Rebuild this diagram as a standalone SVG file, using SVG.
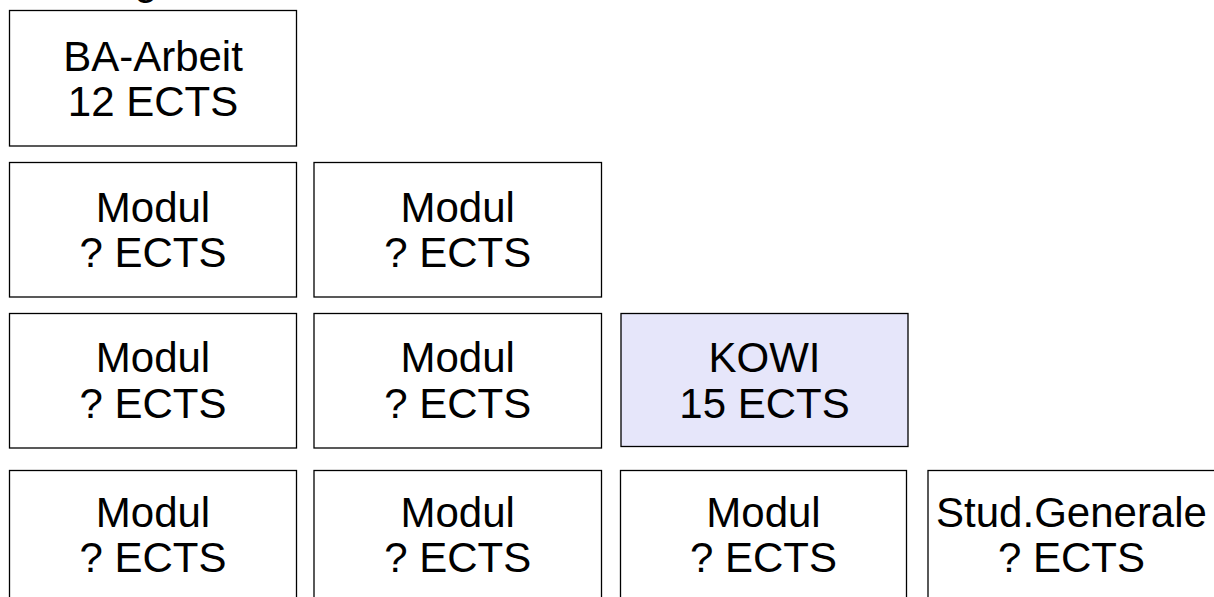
<svg xmlns="http://www.w3.org/2000/svg" width="1214" height="597" viewBox="0 0 1214 597">
<style>
.box{fill:#ffffff;stroke:#000000;stroke-width:1.3}
.kowi{fill:#e6e6fa;stroke:#000000;stroke-width:1.3}
.t{font-family:"Liberation Sans",Arial,sans-serif;font-size:42px;fill:#000000;text-anchor:middle}
</style>
<rect width="1214" height="597" fill="#ffffff"/>
<text class="t" x="146" y="-6">g</text>
<g id="ba-arbeit">
<rect class="box" x="9.5" y="10.5" width="287" height="135.5"/>
<text class="t" x="153" y="71">BA-Arbeit</text>
<text class="t" x="153" y="116">12 ECTS</text>
</g>
<g id="modul-r2c1">
<rect class="box" x="9.5" y="162.5" width="287" height="134.5"/>
<text class="t" x="153" y="222">Modul</text>
<text class="t" x="153" y="267">? ECTS</text>
</g>
<g id="modul-r2c2">
<rect class="box" x="314" y="162.5" width="287.5" height="134.5"/>
<text class="t" x="457.7" y="222">Modul</text>
<text class="t" x="457.7" y="267">? ECTS</text>
</g>
<g id="modul-r3c1">
<rect class="box" x="9.5" y="313.5" width="287" height="134.5"/>
<text class="t" x="153" y="372">Modul</text>
<text class="t" x="153" y="418">? ECTS</text>
</g>
<g id="modul-r3c2">
<rect class="box" x="314" y="313.5" width="287.5" height="134.5"/>
<text class="t" x="457.7" y="372">Modul</text>
<text class="t" x="457.7" y="418">? ECTS</text>
</g>
<g id="kowi">
<rect class="kowi" x="621" y="313.5" width="287" height="133"/>
<text class="t" x="764.5" y="372">KOWI</text>
<text class="t" x="764.5" y="418">15 ECTS</text>
</g>
<g id="modul-r4c1">
<rect class="box" x="9.5" y="470.5" width="287" height="136"/>
<text class="t" x="153" y="527">Modul</text>
<text class="t" x="153" y="572">? ECTS</text>
</g>
<g id="modul-r4c2">
<rect class="box" x="314" y="470.5" width="287.5" height="136"/>
<text class="t" x="457.7" y="527">Modul</text>
<text class="t" x="457.7" y="572">? ECTS</text>
</g>
<g id="modul-r4c3">
<rect class="box" x="620.5" y="470.5" width="286" height="136"/>
<text class="t" x="763.5" y="527">Modul</text>
<text class="t" x="763.5" y="572">? ECTS</text>
</g>
<g id="stud-generale">
<rect class="box" x="928" y="470.5" width="287" height="136"/>
<text class="t" x="1071.5" y="527">Stud.Generale</text>
<text class="t" x="1071.5" y="572">? ECTS</text>
</g>
<g id="connectors"></g>
</svg>
